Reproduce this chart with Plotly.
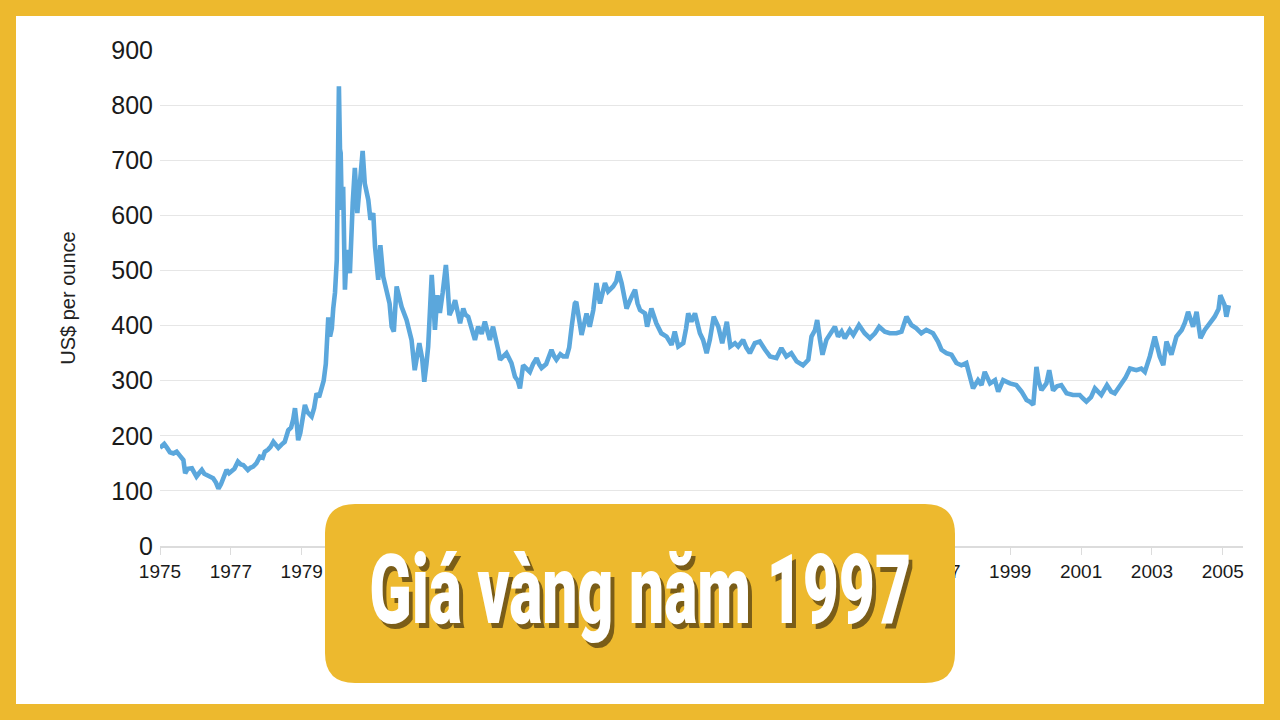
import plotly.graph_objects as go

# ---------------- data ----------------
# time in decimal years, price in US$ per ounce
years = [
    1975.00, 1975.05, 1975.12, 1975.20, 1975.28, 1975.38, 1975.47, 1975.56, 1975.66, 1975.71,
    1975.78, 1975.90, 1975.96, 1976.03, 1976.10, 1976.18, 1976.25, 1976.32, 1976.42, 1976.50,
    1976.58, 1976.65, 1976.72, 1976.78, 1976.88, 1976.95, 1977.02, 1977.10, 1977.20, 1977.28,
    1977.35, 1977.48, 1977.55, 1977.63, 1977.72, 1977.82, 1977.90, 1977.96, 1978.05, 1978.12,
    1978.20, 1978.27, 1978.34, 1978.43, 1978.52, 1978.62, 1978.70, 1978.76, 1978.81, 1978.86,
    1978.90, 1978.96, 1979.03, 1979.09, 1979.16, 1979.22, 1979.28, 1979.35, 1979.42, 1979.49,
    1979.56, 1979.62, 1979.68, 1979.72, 1979.75, 1979.80, 1979.85, 1979.89, 1979.94, 1979.99,
    1980.02, 1980.05, 1980.08, 1980.10, 1980.13, 1980.17, 1980.22, 1980.26, 1980.31, 1980.36,
    1980.44, 1980.50, 1980.57, 1980.64, 1980.72, 1980.78, 1980.88, 1980.94, 1981.02, 1981.07,
    1981.16, 1981.22, 1981.30, 1981.41, 1981.48, 1981.54, 1981.60, 1981.68, 1981.75, 1981.82,
    1981.96, 1982.03, 1982.10, 1982.19, 1982.32, 1982.40, 1982.46, 1982.52, 1982.57, 1982.63,
    1982.67, 1982.72, 1982.76, 1982.83, 1982.90, 1982.98, 1983.07, 1983.12, 1983.17, 1983.25,
    1983.33, 1983.40, 1983.47, 1983.56, 1983.62, 1983.70, 1983.80, 1983.89, 1983.98, 1984.08,
    1984.17, 1984.24, 1984.31, 1984.40, 1984.50, 1984.55, 1984.60, 1984.70, 1984.78, 1984.92,
    1985.02, 1985.10, 1985.16, 1985.25, 1985.35, 1985.44, 1985.53, 1985.63, 1985.70, 1985.77,
    1985.90, 1986.05, 1986.12, 1986.19, 1986.30, 1986.38, 1986.48, 1986.55, 1986.62, 1986.71,
    1986.75, 1986.81, 1986.90, 1987.04, 1987.13, 1987.23, 1987.32, 1987.42, 1987.50, 1987.56,
    1987.65, 1987.79, 1987.88, 1987.94, 1988.03, 1988.10, 1988.17, 1988.31, 1988.41, 1988.48,
    1988.55, 1988.69, 1988.75, 1988.87, 1989.01, 1989.15, 1989.30, 1989.44, 1989.53, 1989.63,
    1989.77, 1989.85, 1989.91, 1990.00, 1990.10, 1990.24, 1990.33, 1990.43, 1990.52, 1990.63,
    1990.70, 1990.76, 1990.87, 1991.00, 1991.10, 1991.23, 1991.32, 1991.46, 1991.55, 1991.65,
    1991.79, 1991.93, 1992.08, 1992.22, 1992.40, 1992.54, 1992.68, 1992.82, 1992.97, 1993.06,
    1993.15, 1993.30, 1993.39, 1993.49, 1993.55, 1993.63, 1993.70, 1993.81, 1993.95, 1994.05,
    1994.14, 1994.24, 1994.33, 1994.47, 1994.57, 1994.73, 1994.89, 1995.04, 1995.18, 1995.30,
    1995.46, 1995.60, 1995.79, 1995.93, 1996.07, 1996.21, 1996.35, 1996.49, 1996.63, 1996.82,
    1996.96, 1997.06, 1997.20, 1997.34, 1997.48, 1997.62, 1997.76, 1997.86, 1997.95, 1998.09,
    1998.19, 1998.28, 1998.43, 1998.57, 1998.66, 1998.80, 1998.99, 1999.17, 1999.32, 1999.46,
    1999.55, 1999.65, 1999.74, 1999.80, 1999.88, 2000.02, 2000.10, 2000.21, 2000.32, 2000.44,
    2000.59, 2000.77, 2000.96, 2001.05, 2001.15, 2001.28, 2001.39, 2001.57, 2001.73, 2001.85,
    2001.95, 2002.14, 2002.25, 2002.38, 2002.56, 2002.70, 2002.80, 2002.94, 2003.08, 2003.22,
    2003.32, 2003.41, 2003.55, 2003.69, 2003.84, 2003.93, 2004.02, 2004.16, 2004.26, 2004.37,
    2004.49, 2004.63, 2004.77, 2004.88, 2004.93, 2005.05, 2005.10, 2005.17,
]

prices = [
    178, 180, 185, 178, 170, 168, 171, 164, 156, 132,
    140, 141, 133, 126, 132, 138, 131, 129, 126, 123,
    115, 104, 112, 120, 138, 132, 135, 140, 153, 148,
    147, 138, 142, 144, 150, 162, 160, 171, 175, 180,
    189, 183, 178, 184, 189, 210, 215, 230, 250, 222,
    192, 205, 228, 256, 243, 240, 235, 250, 277, 270,
    283, 300, 330, 385, 415, 380, 395, 431, 460, 519,
    628, 834, 720, 713, 610, 652, 465, 520, 537, 495,
    622, 686, 604, 652, 717, 658, 628, 592, 604, 543,
    483, 546, 489, 459, 440, 398, 389, 471, 450, 434,
    410, 395, 374, 319, 368, 340, 298, 330, 362, 440,
    492, 440, 392, 455, 423, 460, 510, 470, 419, 430,
    446, 425, 404, 431, 420, 416, 390, 374, 398, 385,
    407, 390, 374, 398, 374, 355, 338, 345, 350, 332,
    307, 300, 286, 328, 320, 316, 330, 341, 330, 323,
    330, 356, 345, 338, 348, 344, 344, 360, 398, 440,
    443, 416, 383, 422, 398, 428, 477, 440, 460, 477,
    462, 471, 480, 498, 477, 450, 431, 452, 465, 440,
    428, 422, 398, 431, 404, 386, 380, 365, 389, 362,
    368, 395, 422, 407, 422, 386, 374, 350, 374, 416,
    405, 398, 368, 407, 362, 368, 362, 374, 360, 350,
    368, 371, 356, 344, 341, 359, 344, 350, 335, 332,
    328, 338, 380, 392, 410, 374, 347, 374, 389, 398,
    380, 389, 377, 392, 383, 401, 386, 377, 386, 398,
    389, 386, 386, 389, 416, 401, 395, 386, 392, 386,
    371, 356, 350, 347, 332, 328, 332, 307, 286, 301,
    292, 316, 295, 301, 280, 301, 295, 292, 280, 265,
    262, 256, 325, 300, 283, 295, 319, 282, 290, 292,
    277, 274, 274, 268, 262, 270, 286, 274, 292, 280,
    277, 295, 305, 322, 319, 322, 316, 344, 380, 344,
    328, 371, 347, 380, 392, 405, 425, 398, 425, 377,
    392, 404, 416, 430, 455, 437, 416, 437,
]

x_tick_vals = [1975, 1977, 1979, 1981, 1983, 1985, 1987, 1989, 1991, 1993, 1995, 1997,
               1999, 2001, 2003, 2005]
x_tick_text = ["1975", "1977", "1979", "1981", "1983", "1985", "1987", "1989", "1991",
               "1993", "1995", "1997", "1999", "2001", "2003", "2005"]
y_tick_vals = [0, 100, 200, 300, 400, 500, 600, 700, 800, 900]

y_title = "US$ per ounce"
banner_text = "Giá vàng năm 1997"

# ---------------- layout geometry ----------------
W, H = 1280, 720
ML, MR, MT, MB = 160, 37, 50, 174
PW = W - ML - MR
PH = H - MT - MB
YELLOW = "#EDB92E"


def px(x):
    return (x - ML) / PW


def py(y):
    return (H - MB - y) / PH


def rounded_rect(x0, y0, x1, y1, r):
    pts = [
        ("M", [(x0 + r, y0)]),
        ("L", [(x1 - r, y0)]),
        ("Q", [(x1, y0), (x1, y0 + r)]),
        ("L", [(x1, y1 - r)]),
        ("Q", [(x1, y1), (x1 - r, y1)]),
        ("L", [(x0 + r, y1)]),
        ("Q", [(x0, y1), (x0, y1 - r)]),
        ("L", [(x0, y0 + r)]),
        ("Q", [(x0, y0), (x0 + r, y0)]),
    ]
    s = ""
    for cmd, ps in pts:
        s += cmd + " " + " ".join(f"{px(a):.5f},{py(b):.5f}" for a, b in ps) + " "
    return s + "Z"


fig = go.Figure()
fig.add_trace(go.Scatter(
    x=years, y=prices, mode="lines",
    line=dict(color="#5BA7DC", width=4.6),
    hoverinfo="skip", showlegend=False,
))

font_ax = "Liberation Sans, Arial, Helvetica, sans-serif"

fig.update_layout(
    width=W, height=H,
    margin=dict(l=ML, r=MR, t=MT, b=MB, pad=0),
    paper_bgcolor=YELLOW,
    plot_bgcolor="rgba(0,0,0,0)",
    showlegend=False,
    xaxis=dict(
        range=[1975, 2005.57],
        tickvals=x_tick_vals, ticktext=x_tick_text,
        showgrid=False, zeroline=False,
        showline=True, linecolor="#dcdcdc", linewidth=1.5,
        ticks="outside", ticklen=7, tickcolor="#dcdcdc", tickwidth=1,
        tickfont=dict(family=font_ax, size=19, color="#1a1a1a"),
        fixedrange=True,
    ),
    yaxis=dict(
        range=[0, 900],
        tickvals=y_tick_vals,
        showgrid=True, gridcolor="#e6e6e6", gridwidth=1,
        zeroline=False, showline=False,
        ticks="", ticklabelstandoff=6,
        tickfont=dict(family=font_ax, size=25, color="#1a1a1a"),
        title=dict(text=y_title, standoff=30,
                   font=dict(family=font_ax, size=20, color="#222222")),
        fixedrange=True,
    ),
    shapes=[
        dict(type="rect", xref="paper", yref="paper",
             x0=px(16), x1=px(1264), y0=py(704), y1=py(16),
             fillcolor="white", line=dict(width=0), layer="below"),
        dict(type="path", xref="paper", yref="paper",
             path=rounded_rect(325, 504, 955, 683, 30),
             fillcolor=YELLOW, line=dict(width=0), layer="above"),
    ],
    annotations=[
        dict(xref="paper", yref="paper", x=px(640), y=py(590),
             xanchor="center", yanchor="middle", showarrow=False,
             text=banner_text,
             font=dict(family="Roboto, Liberation Sans, sans-serif", weight=900,
                       size=96, color="white", shadow="5px 4px 0px #7a5d18")),
    ],
)

# page tweaks: no body margin; squeeze the banner text horizontally like a condensed face
post = """
document.body.style.margin = '0';
document.body.style.background = '#EDB92E';
var t = document.querySelector('.annotation-text');
if (t) {
  var b = t.getBBox();
  var s = 542 / b.width;
  var cx = b.x + b.width / 2;
  t.setAttribute('transform', 'translate(' + cx + ',0) scale(' + s + ',1) translate(' + (-cx) + ',0)');
}
"""

fig.write_html("out.html", post_script=post, config={"displayModeBar": False})
